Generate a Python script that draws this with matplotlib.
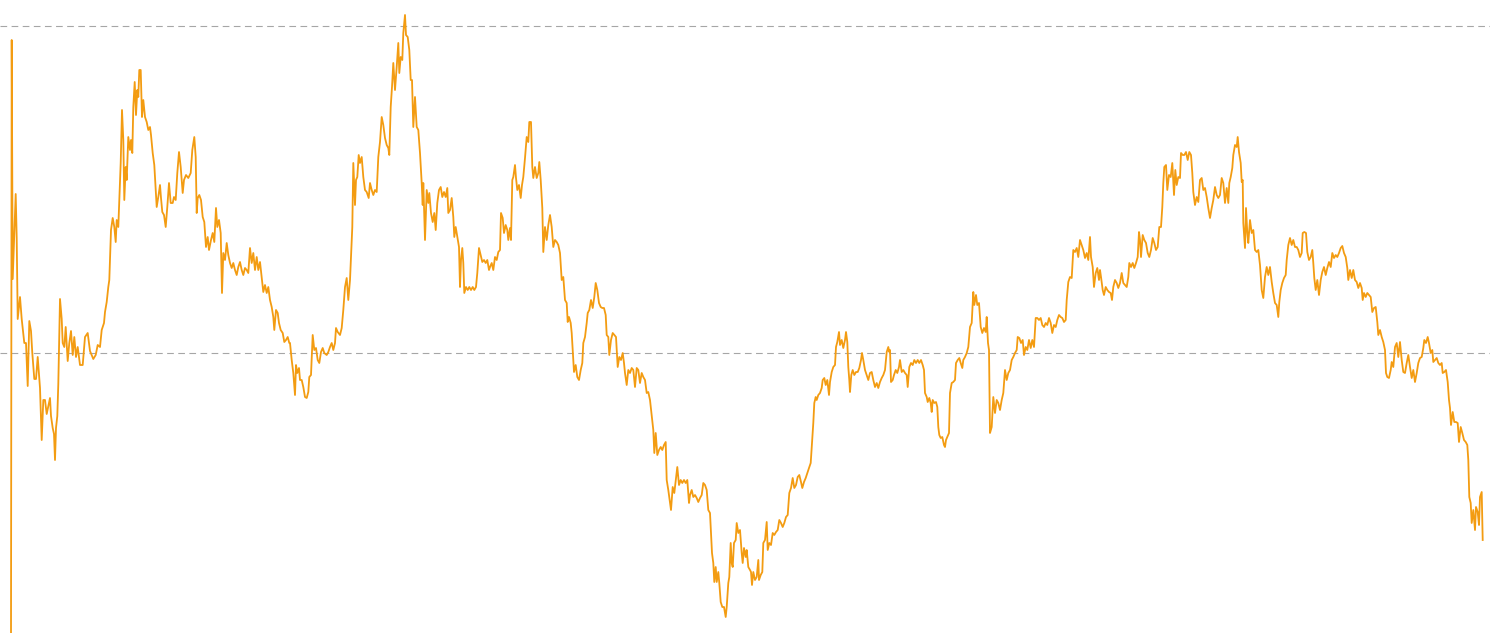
import matplotlib
matplotlib.use("Agg")
import matplotlib.pyplot as plt
import numpy as np

# time index (days) and level values
day = [11, 11.7, 12.7, 15.7, 16.7, 17.7, 20, 21.7, 24.3, 26, 27.7, 29.3, 31, 32.3, 34.3, 36, 37.7, 40, 41.7, 43.3,
       45, 46.7, 48.3, 50, 51, 52.7, 54, 55, 56, 57.3, 58.3, 60, 61.7, 62.7, 64.3, 65.7, 67.7, 69.3, 71, 72.7,
       74.3, 76, 77.7, 80, 82.7, 85, 87.7, 90, 93.3, 95.7, 97.7,
       100, 101.7, 104, 105, 106.7, 108.3, 109.3, 111, 112.7, 114.3, 115.7, 116.7, 118.3, 119.3, 120.7, 122, 123.3,
       124.3, 125.7, 126.7, 128.3, 130, 131, 132.3, 133.3, 134.7, 136, 137.3, 138.3, 139.3, 140.7, 142, 143.3, 145,
       146.7, 148.3, 150, 151, 152.7, 154.3, 155.3, 156.7, 158.3, 160, 161, 162.3, 164, 165.7, 167.3, 169, 170.7,
       172.7, 174, 175.7, 177.3, 179, 180.7, 182.7, 184, 186, 188.3, 190.7, 192.3, 194.3, 195.7, 196.7, 197.7, 199.3,
       201, 202.7, 204.3, 206, 207.7, 209, 211, 212.7, 214.3, 216, 217.3, 219, 220.7, 222, 223.3, 225, 226.7, 228.3,
       230, 231.7, 233.3, 235, 236.7, 238.3, 240, 241.7, 243.3, 245, 246.7, 248.3, 250, 251.7, 253.3, 255, 256.7,
       258.3, 260, 261.7, 263.3, 265, 266.7, 268.3, 270, 271.7, 273.3, 274.3, 276, 277.7, 279, 280.7, 282.7, 284.3,
       286, 287.7, 289.3,
       290, 291.7, 293.3, 295, 296, 297.3, 299, 300, 301.7, 303.3, 305, 306.7, 308.3, 309.3, 311, 312.7, 314.3, 316,
       317.7, 319.3, 321, 322.7, 324.3, 326.7, 328.3, 330, 331.7, 333.3, 335, 336, 337.7, 340, 341.7, 343.3, 345,
       346.7, 348.3, 350, 351, 352.3, 353.3, 354.3, 355, 356, 357.3, 358.7, 360, 361.7, 363.3, 365, 366.7, 368.7,
       370, 371.7, 373.3, 375, 376.7, 378.3, 380, 381.7, 383.3, 385, 386.7, 388.3, 389.3, 390.7, 392, 393.3, 395,
       396.7, 398.3, 399.3, 400.7, 402.3, 403.3, 405, 406, 407.7, 409.3, 410.7, 412, 413.3, 415, 416.7, 418.3, 420,
       421.7, 422.7, 423.3, 425, 426.7, 428.3, 429.3, 431, 432.7, 434.3, 435.7, 437.3, 439, 440.7, 442.3, 444,
       445.7, 447.3, 448.3, 450, 451.7, 453.3, 454.3, 455.7, 457.3, 459, 460, 461, 462.3, 463.3, 464.3, 466, 467.7,
       469.3, 471, 472.7, 474.3, 476, 477.3, 479, 480.7, 482.3, 484, 485.7, 487.3, 489,
       490, 491.7, 493.3, 495, 496.7, 498.3, 500, 501, 502.7, 504, 505.7, 507.3, 508.3, 510, 511, 512.3, 513.3, 515,
       516, 517.3, 519, 520.7, 522, 523.3, 525, 526.7, 528.3, 529.3, 531, 532.3, 533.3, 535, 536.7, 538.3, 539.3,
       540.7, 542.3, 543.3, 545, 546.7, 548.3, 550, 551.7, 553.3, 555, 556.7, 558.3, 560, 561.7, 563.3, 565, 566.7,
       567.7, 569, 570.7, 571.7, 572.7, 574, 575.7, 577.3, 579, 580.7, 582.3, 583.3, 585, 586.7, 587.7, 589.3, 591,
       592.7, 594.3, 595.7, 597.3, 599, 600.7, 602.3, 604, 605.7, 606.7, 608.3, 609.3, 611, 612.7, 614.3, 616,
       617.7, 619.3, 621, 622.7, 624, 625, 626.7, 628.3, 630, 631.7, 633.3, 635, 636.7, 638.3, 640, 641.7, 643.3,
       645, 646.7, 648.3, 650, 651.7, 653.3, 654.3, 655.7, 657.3, 659, 660.7, 662.3, 664, 665.7, 666.7, 668.3, 670,
       671, 672.7, 674.3, 676, 677.3, 679, 680.7, 682.3, 684, 685.7, 687.3, 689,
       690, 691.7, 693.3, 695, 696.7, 698.3, 700, 701.7, 703.3, 705, 706.7, 708.3, 710, 711, 712, 713.3, 714.3,
       715.7, 716.7, 718.3, 719.3, 720.7, 722.3, 724, 725.7, 726.7, 728.3, 729.3, 730.7, 731.7, 732.7, 734, 735.7,
       736.7, 738.3, 740, 741.7, 742.7, 744, 745.7, 746.7, 748.3, 750, 751, 752, 753.3, 755, 756.7, 758.3, 759,
       760.7, 762.3, 763.3, 765, 766.7, 767.7, 769.3, 771, 772.7, 774.3, 776, 777.7, 779.3, 781, 782.7, 784.3, 786,
       787.7, 789.3, 791, 792.7, 794.3, 796, 797.7, 799.3, 801, 802.3, 804, 805.7, 807.3, 809, 810.7, 812, 813.3,
       814.3, 815.7, 816.7, 818.3, 820, 821.7, 822.7, 824.3, 825.7, 827.3, 829, 830, 831.7, 833.3, 835, 836, 837.3,
       839, 840, 841.7, 843.3, 845, 846, 847.3, 848.3, 849.3, 850, 851.3, 852.7, 854.3, 856, 857.7, 859.3, 861, 862,
       863.3, 865, 866.7, 868.3, 870, 871.7, 873.3, 875, 876.7, 878.3, 880, 881.7, 883.3, 885, 886.7, 888.3, 889.3,
       890, 891, 892.7, 894, 895.7, 897.3, 899, 900, 901.7, 903.3, 905, 906.7, 907.7, 909.3, 911, 912.7, 914.3, 916,
       917.7, 919.3, 921, 922.7, 924, 925, 926.7, 927.7, 929.3, 930.7, 931.7, 932.7, 934.3, 936, 937.3, 938.3,
       939.3, 940.7, 942.3, 944, 945, 946, 947.3, 949, 950, 951.7, 953.3, 955, 956, 957.7, 959.3, 960.7, 962.3,
       963.3, 965, 966.7, 968.3, 970, 971.7, 973.3, 974.3, 976, 977.3, 979, 980.7, 982.3, 984, 985.7, 986.7, 988,
       989, 990, 991.7, 993.3, 995, 996.7, 998.3, 1000, 1001.7, 1003.3, 1005, 1006.7, 1008.3, 1010, 1011.7, 1013.3,
       1015, 1016.7, 1017.7, 1019.3, 1021, 1022.7, 1024, 1025.7, 1027.3, 1029, 1030.7, 1032.3, 1034, 1035.7, 1037.3,
       1039, 1040.7, 1042.3, 1044, 1045.7, 1047.3, 1049, 1050.7, 1052.3, 1054, 1055.7, 1057.3, 1059, 1060.7, 1062.3,
       1064, 1065.7, 1066.7, 1068.3, 1070, 1071.7, 1073.3, 1075, 1076.7, 1078.3, 1080, 1081.7, 1083.3, 1085, 1086.7,
       1088.3, 1090, 1091, 1092.7, 1094, 1095.7, 1097.3, 1099, 1100,
       1101, 1102.7, 1104, 1105.7, 1107.3, 1109, 1110.7, 1112, 1113.3, 1115, 1116.7, 1118.3, 1120, 1121.7, 1123.3,
       1125, 1126.7, 1128.3, 1129.3, 1131, 1132.7, 1134.3, 1136, 1137.7, 1139, 1140, 1141, 1142.7, 1144.3, 1146,
       1147.7, 1149.3, 1151, 1152.7, 1154.3, 1156, 1157.7, 1159.3, 1161, 1162.3, 1163.3, 1164.3, 1166, 1167.3, 1169,
       1170.7, 1172.3, 1174, 1175.3, 1176.7, 1178.3, 1180, 1181, 1182.7, 1184.3, 1186, 1187.7, 1189.3, 1191, 1192.3,
       1193.3, 1195, 1196.7, 1198.3, 1200, 1201.7, 1203.3, 1205, 1206.7, 1208.3, 1210, 1211.7, 1213.3, 1215, 1216.7,
       1218.3, 1220, 1221.7, 1223.3, 1225, 1226.7, 1228.3, 1229.3, 1230.7, 1232.3, 1233.3, 1235, 1236.7, 1237.7,
       1239, 1240.7, 1241.7, 1242.7, 1243.3, 1245, 1246, 1247.3, 1248.3, 1250, 1251.7, 1253.3, 1255, 1256.7, 1258.3,
       1260, 1261.7, 1263.3, 1265, 1266.7, 1268.3, 1270, 1271.7, 1273.3, 1275, 1276.7, 1278.3, 1279.3, 1280.7,
       1282.3, 1284, 1285.7, 1286.7, 1288.3, 1290, 1291.7, 1293.3, 1295, 1296.7, 1298.3,
       1300, 1301.7, 1302.7, 1304.3, 1306, 1307.3, 1309, 1310.7, 1312.3, 1313.3, 1314.3, 1315.7, 1317.3, 1319,
       1320.7, 1322.3, 1324, 1325.7, 1327.3, 1329, 1330.7, 1332.3, 1334, 1335.7, 1337.3, 1339, 1340.7, 1342.3, 1344,
       1345.7, 1347.3, 1348.3, 1350, 1351.7, 1353.3, 1355, 1356.7, 1358.3, 1360, 1361.7, 1362.7, 1364, 1365.7,
       1367.3, 1369, 1370.7, 1372.3, 1374, 1375.7, 1377.3, 1378.3, 1380, 1381.7, 1383.3, 1385, 1386, 1387.3, 1389,
       1390.7, 1391.7, 1393.3, 1395, 1396.7, 1398.3,
       1400, 1401.7, 1403.3, 1405, 1406.7, 1408.3, 1410, 1411.7, 1413.3, 1415, 1416.7, 1418.3, 1420, 1421.7, 1423.3,
       1424.3, 1426, 1427.7, 1429, 1430.7, 1432.3, 1433.3, 1435, 1436.7, 1438.3, 1440, 1441.7, 1442.7, 1444.3, 1446,
       1447.7, 1449, 1450, 1451, 1452.7, 1454.3, 1456, 1457.7, 1459, 1460.7, 1462.3, 1464, 1465.7, 1467.3, 1468.3,
       1469.3, 1470.7, 1471.7, 1473.3, 1475, 1476, 1477.7, 1479, 1480, 1481.7, 1482.7]

level = [-5, 593, 354, 439, 395, 314, 336, 314, 290, 290, 247, 312, 302, 280, 254, 254, 276, 245, 193, 233,
         233, 219, 227, 235, 217, 205, 199, 173, 205, 217, 249, 334, 314, 290, 286, 306, 272, 290, 302, 278,
         296, 276, 286, 268, 268, 296, 300, 282, 274, 278, 288,
         286, 303, 310, 321, 331, 346, 353, 403, 415, 406, 391, 413, 406, 433, 470, 523, 493,
         433, 466, 453, 496, 483, 493, 480, 526, 551, 518, 543, 536, 563, 563, 516, 533, 516,
         511, 503, 506, 498, 480, 468, 450, 426, 436, 448, 435, 421, 418, 406, 426, 450, 430,
         430, 436, 433, 460, 481, 466, 440, 453, 458, 455, 460, 483, 496, 476, 420, 435, 438,
         433, 416, 411, 386, 396, 383, 393, 400, 391, 425, 406, 413, 400, 340, 380, 373, 390, 378,
         370, 365, 370, 363, 358, 366, 371, 363, 358, 365, 363, 360, 385, 370, 380, 363, 376,
         363, 371, 356, 341, 348, 340, 346, 333, 326, 316, 303, 323, 320, 310, 303, 300, 291,
         293, 296, 290,
         290, 273, 260, 238, 268, 260, 265, 253, 253, 246, 236, 235, 241, 256, 258, 298, 283, 285,
         273, 270, 281, 285, 280, 278, 281, 286, 290, 283, 290, 305, 301, 298, 305, 323, 346,
         355, 333, 353, 376, 406, 470, 446, 428, 453, 456, 478, 470, 476, 456, 443, 441, 435,
         450, 443, 438, 443, 441, 476, 491, 516, 508, 495, 488, 485, 478, 526, 546, 570, 543,
         566, 590, 560, 576, 573, 600, 618, 598, 596, 583, 553, 553, 506, 536, 506, 503, 480,
         450, 428, 450, 393, 443, 430, 440, 420, 411, 420, 403, 430, 443, 446, 436, 441,
         436, 445, 420, 423, 435, 416, 396, 406, 396, 386, 346, 373, 385, 370, 340, 346, 343,
         346, 343, 346, 343, 346, 360, 385, 378, 371, 373, 370, 373, 363,
         366, 370, 363, 376, 373, 381, 383, 420, 415, 400, 408, 403, 393, 405, 393, 453, 456, 468,
         455, 443, 448, 435, 448, 456, 475, 496, 491, 511, 511, 466, 455, 466, 455, 460, 471,
         453, 425, 381, 406, 393, 408, 418, 406, 386, 393, 391, 388, 380, 353, 356, 333, 330,
         311, 316, 310, 300, 283, 261, 268, 256, 253, 263, 270, 290, 296, 310, 320, 323, 333,
         325, 336, 350, 343, 330, 326, 325, 325, 318, 298, 296, 278, 293, 300, 298, 296,
         266, 276, 273, 280, 270, 260, 248, 263, 260, 265, 263, 246, 265, 263, 250, 260, 256,
         253, 240, 241, 233, 218, 203, 180, 200, 178, 183, 186, 183, 188, 191, 153, 143, 130,
         123, 146, 140, 155, 166, 148, 153, 150, 153, 150, 153, 130,
         138, 143, 136, 138, 135, 131, 135, 138, 150, 148, 143, 123, 120, 100, 80, 70, 51,
         66, 51, 61, 50, 31, 26, 26, 16, 26, 50, 56, 90, 70, 66, 90, 93,
         110, 100, 103, 80, 70, 85, 76, 83, 66, 63, 61, 48, 61, 53, 56, 73, 53,
         58, 61, 90, 93, 111, 83, 90, 88, 100, 98, 101, 103, 113, 110, 106, 110, 116,
         118, 140, 145, 155, 145, 148, 156, 158, 151, 145, 151, 155, 160, 165, 170, 190, 210,
         230, 236, 233, 238, 240, 245, 253, 255, 248, 253, 238, 251, 261, 266, 268, 286, 291,
         301, 288, 293, 285, 293, 301, 291, 266, 253, 241, 258, 263, 258, 261, 261, 265, 273, 280,
         273, 263, 258, 253, 260, 261, 253, 246, 250, 245, 251, 255, 258, 263, 281, 286, 281,
         283, 251, 253, 258, 263, 260, 266, 273, 261, 263, 260, 258, 246, 266, 270, 268, 273, 270,
         273, 270, 273, 268, 263, 240, 236, 231, 235, 230, 221, 233, 230, 231, 226, 206,
         198, 195, 196, 188, 186, 193, 196, 200, 240, 250, 251, 253, 270, 273, 275, 270, 265,
         273, 276, 280, 286, 306, 310, 341, 328, 338, 328, 330, 306, 300, 305, 301, 316, 290,
         283, 200, 206, 236, 220, 233, 230, 223, 233, 240, 263, 253, 260, 263, 273, 276,
         280, 283, 296, 295, 290, 293, 278, 286, 283, 293, 285, 293, 286, 315, 315,
         313, 315, 308, 306, 310, 308, 315, 310, 300, 308, 306, 313, 318, 316, 315,
         311, 313, 333, 351, 356, 355, 383, 381, 385, 376, 393, 388, 383, 375, 380,
         373, 396, 376, 366, 346, 360, 365, 353, 363,
         356, 343, 338, 346, 343, 341, 340, 333, 346, 353, 350, 345, 350, 360, 350,
         348, 346, 356, 370, 366, 370, 365, 370, 376, 401, 393, 376, 398, 393, 390,
         380, 376, 383, 395, 390, 383, 386, 406, 406, 426, 450, 466, 468, 443, 458,
         456, 470, 438, 463, 448, 456, 455, 480, 478, 478, 481, 473, 481, 478, 460,
         441, 428, 436, 431, 453, 455, 443, 445, 436, 425, 415, 425, 433, 446, 438,
         435, 438, 455, 450, 430, 445, 430, 450, 456, 465, 478, 488, 486, 496,
         481, 470, 451, 453, 410, 385, 425, 400, 390, 413, 400, 403, 383, 381, 383,
         368, 343, 335, 356, 366, 358, 366, 351, 340, 330, 328, 316, 331, 343,
         350, 355, 358, 373, 388, 395, 388, 393, 386, 386, 383,
         376, 380, 400, 401, 400, 381, 373, 376, 383, 370, 355, 343, 353, 338,
         353, 361, 366, 358, 365, 371, 366, 380, 375, 378, 376, 380, 385, 387, 380,
         376, 365, 353, 363, 355, 363, 353, 351, 345, 350, 345, 333, 340, 336,
         340, 338, 336, 321, 325, 326, 311, 298, 303, 296, 291, 283, 260, 256, 255,
         263, 271, 266, 286, 290, 276,
         291, 273, 261, 260, 270, 278, 266, 255, 263, 251, 260, 270, 275, 276, 285,
         293, 290, 296, 290, 280, 283, 271, 273, 275, 270, 268, 270, 260, 261, 263,
         251, 233, 225, 208, 221, 211, 211, 210, 191, 206, 200, 193, 191, 188, 173,
         136, 130, 110, 123, 103, 126, 121, 108, 136, 141, 93]

grid_levels = [280, 607]

line_color = "#F39C12"
grid_color = "#a6a6a6"

fig = plt.figure(figsize=(14.9, 6.33), dpi=100)
ax = fig.add_axes([0, 0, 1, 1])
ax.set_xlim(0, 1490)
ax.set_ylim(0, 633)
ax.axis("off")

for g in grid_levels:
    ax.axhline(g, color=grid_color, lw=0.8, ls=(0, (6, 4)), zorder=1)

ax.plot(np.array(day), np.array(level), color=line_color, lw=1.3,
        solid_joinstyle="round", zorder=2)

fig.savefig("out.png", dpi=100, facecolor="white")
